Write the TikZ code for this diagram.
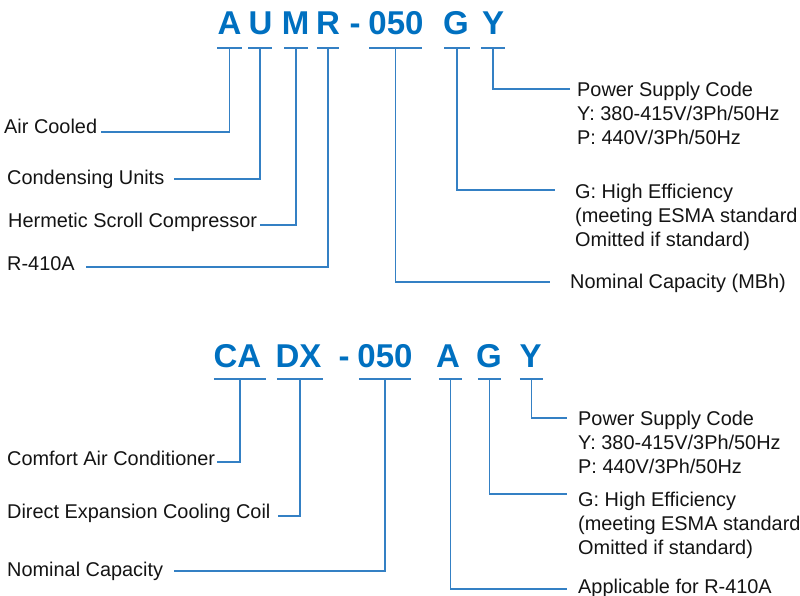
\documentclass[tikz,border=0pt]{standalone}
\usepackage{fontspec}
\setmainfont{Liberation Sans}
\definecolor{codeblue}{RGB}{0,112,192}
\definecolor{linkblue}{RGB}{52,128,196}
\definecolor{txt}{RGB}{20,20,20}
\tikzset{
  code/.style={font=\fontsize{33}{33}\selectfont\bfseries, text=codeblue, inner sep=0pt, anchor=base},
  lbl/.style={font=\fontsize{19.9}{24}\selectfont, text=txt, inner sep=0pt, anchor=base west, align=left},
  ubar/.style={inner sep=0pt, minimum height=0pt, text height=0pt, text depth=0pt},
  link/.style={draw=linkblue, line width=1.4pt},
}
\begin{document}
\begin{tikzpicture}[x=1pt,y=-1pt]
\useasboundingbox (0,0) rectangle (800,596);
% ---------- top code ----------
\node[code] (tA) at (229.5,35) {A};
\node[code] (tU) at (260.5,35) {U};
\node[code] (tM) at (295.5,35) {M};
\node[code] (tR) at (328,35) {R};
\node[code] (tD) at (355,35) {-};
\node[code] (t050) at (396,35) {050};
\node[code] (tG) at (456,35) {G};
\node[code] (tY) at (493,35) {Y};
\node[ubar, minimum width=24pt] (uA) at (229.5,48) {};
\node[ubar, minimum width=23pt] (uU) at (260,48) {};
\node[ubar, minimum width=23pt] (uM) at (296,48) {};
\node[ubar, minimum width=22pt] (uR) at (328,48) {};
\node[ubar, minimum width=52pt] (u050) at (395.5,48) {};
\node[ubar, minimum width=25pt] (uG) at (457,48) {};
\node[ubar, minimum width=24pt] (uY) at (493,48) {};
\foreach \u in {uA,uU,uM,uR,u050,uG,uY}{\draw[link] (\u.west) -- (\u.east);}
% labels (multi-line labels are anchored at the baseline of their last line)
\node[lbl] (lAir) at (4,134) {Air Cooled};
\node[lbl] (lCond) at (7,185) {Condensing Units};
\node[lbl] (lHerm) at (8,227) {Hermetic Scroll Compressor};
\node[lbl] (lR) at (7,270) {R-410A};
\node[lbl] (lPow) at (577,145) {Power Supply Code\\Y: 380-415V/3Ph/50Hz\\P: 440V/3Ph/50Hz};
\node[lbl] (lG) at (575,246) {G: High Efficiency\\(meeting ESMA standard\\Omitted if standard)};
\node[lbl] (lNom) at (570,288) {Nominal Capacity (MBh)};
\coordinate (cAir) at (101,132);
\coordinate (cCond) at (174,179);
\coordinate (cHerm) at (260,225);
\coordinate (cR) at (86,267);
\coordinate (cPow) at (570,89);
\coordinate (cG) at (555,190);
\coordinate (cNom) at (550,282);
\draw[link] (uA) |- (cAir);
\draw[link] (uU) |- (cCond);
\draw[link] (uM) |- (cHerm);
\draw[link] (uR) |- (cR);
\draw[link] (uY) |- (cPow);
\draw[link] (uG) |- (cG);
\draw[link] (u050) |- (cNom);
% ---------- bottom code ----------
\node[code] (bCA) at (237.5,367) {CA};
\node[code] (bDX) at (298.5,367) {DX};
\node[code] (bD) at (344,367) {-};
\node[code] (b050) at (385,367) {050};
\node[code] (bA) at (448,367) {A};
\node[code] (bG) at (489,367) {G};
\node[code] (bY) at (530.5,367) {Y};
\node[ubar, minimum width=52pt] (vCA) at (240,379) {};
\node[ubar, minimum width=46pt] (vDX) at (300,379) {};
\node[ubar, minimum width=52pt] (v050) at (385,379) {};
\node[ubar, minimum width=23pt] (vA) at (450.5,379) {};
\node[ubar, minimum width=23pt] (vG) at (489.5,379) {};
\node[ubar, minimum width=23pt] (vY) at (531.5,379) {};
\foreach \u in {vCA,vDX,v050,vA,vG,vY}{\draw[link] (\u.west) -- (\u.east);}
\node[lbl] (lComf) at (7,465) {Comfort Air Conditioner};
\node[lbl] (lDir) at (7,518) {Direct Expansion Cooling Coil};
\node[lbl] (lNom2) at (7,576) {Nominal Capacity};
\node[lbl] (lPow2) at (578,473) {Power Supply Code\\Y: 380-415V/3Ph/50Hz\\P: 440V/3Ph/50Hz};
\node[lbl] (lG2) at (578,554) {G: High Efficiency\\(meeting ESMA standard\\Omitted if standard)};
\node[lbl] (lApp) at (578,593) {Applicable for R-410A};
\coordinate (cComf) at (217,462);
\coordinate (cDir) at (278,516);
\coordinate (cNom2) at (174,571);
\coordinate (cPow2) at (567,418);
\coordinate (cG2) at (567,494);
\coordinate (cApp) at (567,589);
\draw[link] (vCA) |- (cComf);
\draw[link] (vDX) |- (cDir);
\draw[link] (v050) |- (cNom2);
\draw[link] (vY) |- (cPow2);
\draw[link] (vG) |- (cG2);
\draw[link] (vA) |- (cApp);
\end{tikzpicture}
\end{document}
